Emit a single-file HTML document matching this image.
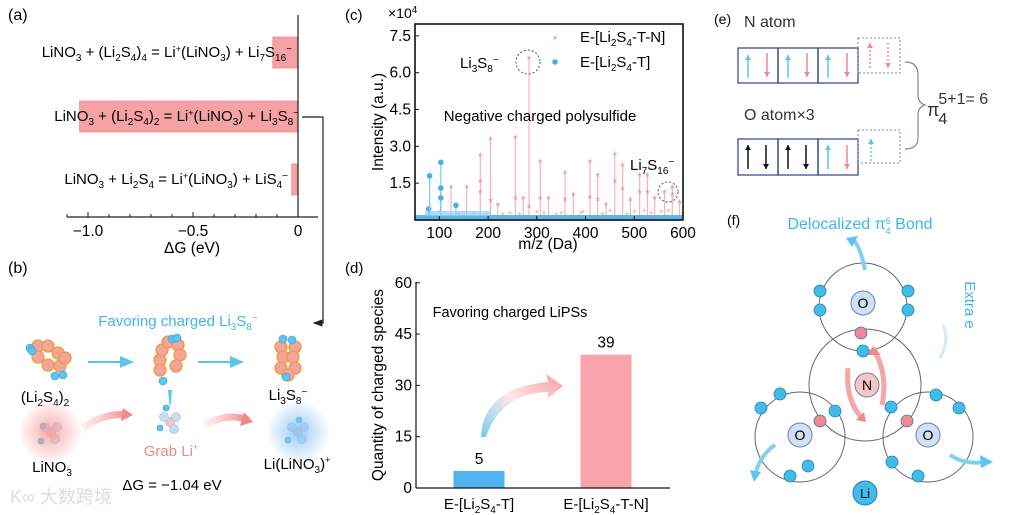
<!DOCTYPE html>
<html><head><meta charset="utf-8">
<style>
body{margin:0;background:#fff;}
svg{display:block;font-family:"Liberation Sans","Noto Sans CJK SC",sans-serif;}
</style></head>
<body>
<svg id="fig" width="1015" height="515" viewBox="0 0 1015 515">
<defs>
<radialGradient id="pinkGlow"><stop offset="0" stop-color="#f7a0a0" stop-opacity="0.9"/><stop offset="1" stop-color="#f7a0a0" stop-opacity="0"/></radialGradient>
<radialGradient id="blueGlow"><stop offset="0" stop-color="#8cc4f2" stop-opacity="0.9"/><stop offset="1" stop-color="#8cc4f2" stop-opacity="0"/></radialGradient>
<linearGradient id="curveGrad" x1="0" y1="1" x2="1" y2="0"><stop offset="0" stop-color="#5bc4f0"/><stop offset="0.5" stop-color="#fde4e6"/><stop offset="1" stop-color="#f58a92"/></linearGradient>
<linearGradient id="pinkArrow" x1="0" x2="1"><stop offset="0" stop-color="#f7b0ac" stop-opacity="0.2"/><stop offset="1" stop-color="#f18a88"/></linearGradient>
<marker id="arrK" markerWidth="8" markerHeight="8" refX="7" refY="4" orient="auto"><path d="M0,1 L8,4 L0,7 Z" fill="#222"/></marker>
<marker id="arrB" markerWidth="8" markerHeight="8" refX="6" refY="4" orient="auto"><path d="M0,1 L7,4 L0,7 Z" fill="#5bc4f0"/></marker>
</defs>

<g id="panelA"></g>
<path d="M302,117 H323 V323 H314" fill="none" stroke="#222" stroke-width="1.2" marker-end="url(#arrK)"/>

<g id="panelB">
<text x="8" y="273" font-size="16">(b)</text>
<text x="178" y="326" font-size="15" fill="#3fb6ea" text-anchor="middle">Favoring charged Li<tspan font-size="10" dy="4">3</tspan><tspan dy="-4">S</tspan><tspan font-size="10" dy="4">8</tspan><tspan font-size="10" dy="-9">−</tspan></text>
<line x1="88" y1="362" x2="132" y2="362" stroke="#5bc4f0" stroke-width="2" marker-end="url(#arrB)"/>
<line x1="198" y1="362" x2="242" y2="362" stroke="#5bc4f0" stroke-width="2" marker-end="url(#arrB)"/>
<g id="mols"></g>
<text x="45" y="402" font-size="15" text-anchor="middle">(Li<tspan font-size="10" dy="4">2</tspan><tspan dy="-4">S</tspan><tspan font-size="10" dy="4">4</tspan><tspan dy="-4">)</tspan><tspan font-size="10" dy="4">2</tspan></text>
<text x="288" y="400" font-size="15" text-anchor="middle">Li<tspan font-size="10" dy="4">3</tspan><tspan dy="-4">S</tspan><tspan font-size="10" dy="4">8</tspan><tspan font-size="10" dy="-9">−</tspan></text>
<circle cx="50" cy="432" r="32" fill="url(#pinkGlow)"/>
<circle cx="298" cy="432" r="32" fill="url(#blueGlow)"/>
<path d="M83,428 Q105,412 128,415" fill="none" stroke="url(#pinkArrow)" stroke-width="7"/>
<path d="M123,408 L133,415 L121,421 Z" fill="#f18a88"/>
<path d="M205,425 Q228,412 248,420" fill="none" stroke="url(#pinkArrow)" stroke-width="7"/>
<path d="M244,412 L253,422 L240,426 Z" fill="#f18a88"/>
<path d="M168,390 L172,390 L170,410 Z" fill="#5bc4f0"/>
<text x="52" y="472" font-size="15" text-anchor="middle">LiNO<tspan font-size="10" dy="4">3</tspan></text>
<text x="171" y="456" font-size="15" fill="#f08a88" text-anchor="middle">Grab Li<tspan font-size="9" dy="-6">+</tspan></text>
<text x="297" y="469" font-size="15" text-anchor="middle">Li(LiNO<tspan font-size="10" dy="4">3</tspan><tspan dy="-4">)</tspan><tspan font-size="9" dy="-6">+</tspan></text>
<text x="172" y="490" font-size="15" text-anchor="middle">ΔG = −1.04 eV</text>
<text x="10" y="503" font-size="18" fill="#ddd">K∞ 大数跨境</text>
</g>

<g id="panelC"></g>
<g id="panelD"></g>

<g id="panelE">
<text x="714" y="24" font-size="14">(e)</text>
<text x="744" y="27" font-size="16" fill="#333">N atom</text>
<text x="744" y="120" font-size="16" fill="#333">O atom×3</text>
<g id="orbBoxes"></g>
<path d="M905,62 Q918,62 918,75 V95 Q918,103 925,105 Q918,107 918,115 V138 Q918,149 905,149" fill="none" stroke="#888" stroke-width="1.2"/>
<text x="927" y="116" font-size="18" fill="#333">π<tspan font-size="16" dx="-1" dy="8">4</tspan><tspan font-size="16" dx="-9" dy="-20">5+1= 6</tspan></text>
</g>

<g id="panelF">
<text x="727" y="225" font-size="14">(f)</text>
<text x="860" y="229" font-size="16" fill="#3fb6ea" text-anchor="middle">Delocalized π<tspan font-size="9" dy="5">4</tspan><tspan font-size="9" dx="-5" dy="-10">6</tspan><tspan dy="5"> Bond</tspan></text>
<text x="965" y="305" font-size="15" fill="#3fb6ea" transform="rotate(90 965 305)" text-anchor="middle">Extra e</text>
<g id="atoms"></g>
</g>
</svg>

<script>
const NS="http://www.w3.org/2000/svg";
function mk(parent,tag,attrs,text){const e=document.createElementNS(NS,tag);for(const k in attrs)e.setAttribute(k,attrs[k]);if(text!==undefined)e.textContent=text;parent.appendChild(e);return e;}

/* ---------- Panel (a) data ---------- */
const aValues=[-0.12,-1.04,-0.03];
const aTicks=[-1.0,-0.5,0];
const aTickLabels=["−1.0","−0.5","0"];
(function(){
 const g=document.getElementById('panelA');
 const x=v=>298+v*210;
 const rowY=[52,116,179];
 const t=mk(g,'text',{x:8,y:20,'font-size':16},'(a)');
 
 
 aValues.forEach((v,i)=>{
  const r=mk(g,'rect',{x:x(v),y:rowY[i]-15,width:x(0)-x(v),height:31,fill:'#f6a1a3',stroke:'#e88a8e','stroke-width':0.8});
  
  
 });
 mk(g,'line',{x1:298,y1:15,x2:298,y2:217,stroke:'#222','stroke-width':1.2});
 mk(g,'line',{x1:67,y1:217,x2:318,y2:217,stroke:'#222','stroke-width':1.2});
 for(let v=-1.1;v<=0.06;v+=0.1){mk(g,'line',{x1:x(v),y1:217,x2:x(v),y2:214,stroke:'#222'});}
 aTicks.forEach((v,i)=>{
  mk(g,'line',{x1:x(v),y1:217,x2:x(v),y2:212,stroke:'#222'});
  const tl=mk(g,'text',{x:x(v),y:236,'font-size':15.5,'text-anchor':'middle'},aTickLabels[i]);
  
  
 });
 const xt=mk(g,'text',{x:192,y:253,'font-size':15.5,'text-anchor':'middle'},'ΔG (eV)');
 
 
 const eqs=[
  'LiNO<tspan font-size="10" dy="4">3</tspan><tspan dy="-4"> + (Li</tspan><tspan font-size="10" dy="4">2</tspan><tspan dy="-4">S</tspan><tspan font-size="10" dy="4">4</tspan><tspan dy="-4">)</tspan><tspan font-size="10" dy="4">4</tspan><tspan dy="-4"> = Li</tspan><tspan font-size="9" dy="-5">+</tspan><tspan dy="5">(LiNO</tspan><tspan font-size="10" dy="4">3</tspan><tspan dy="-4">) + Li</tspan><tspan font-size="10" dy="4">7</tspan><tspan dy="-4">S</tspan><tspan font-size="10" dy="4">16</tspan><tspan font-size="10" dy="-9">−</tspan>',
  'LiNO<tspan font-size="10" dy="4">3</tspan><tspan dy="-4"> + (Li</tspan><tspan font-size="10" dy="4">2</tspan><tspan dy="-4">S</tspan><tspan font-size="10" dy="4">4</tspan><tspan dy="-4">)</tspan><tspan font-size="10" dy="4">2</tspan><tspan dy="-4"> = Li</tspan><tspan font-size="9" dy="-5">+</tspan><tspan dy="5">(LiNO</tspan><tspan font-size="10" dy="4">3</tspan><tspan dy="-4">) + Li</tspan><tspan font-size="10" dy="4">3</tspan><tspan dy="-4">S</tspan><tspan font-size="10" dy="4">8</tspan><tspan font-size="10" dy="-9">−</tspan>',
  'LiNO<tspan font-size="10" dy="4">3</tspan><tspan dy="-4"> + Li</tspan><tspan font-size="10" dy="4">2</tspan><tspan dy="-4">S</tspan><tspan font-size="10" dy="4">4</tspan><tspan dy="-4"> = Li</tspan><tspan font-size="9" dy="-5">+</tspan><tspan dy="5">(LiNO</tspan><tspan font-size="10" dy="4">3</tspan><tspan dy="-4">) + LiS</tspan><tspan font-size="10" dy="4">4</tspan><tspan font-size="10" dy="-9">−</tspan>'];
 const eqRight=[292,299,288];
 eqs.forEach((s,i)=>{
  const e=mk(g,'text',{x:eqRight[i],y:rowY[i]+5,'font-size':15,'text-anchor':'end'});
  e.innerHTML=s;
  
  
 });
})();

/* ---------- Panel (b) molecules ---------- */
(function(){
 const g=document.getElementById('mols');
 const S=(x,y)=>mk(g,'circle',{cx:x,cy:y,r:6,fill:'#f5a3a0',stroke:'#e8a030','stroke-width':1.3});
 const L=(x,y,r=4)=>mk(g,'circle',{cx:x,cy:y,r:r,fill:'#5bc4f0',stroke:'#3a9ad0','stroke-width':0.6});
 [[38,346],[48,346],[58,353],[38,357],[48,365],[60,366],[65,358]].forEach(p=>S(...p));
 L(30,348);L(32,351);L(55,376);L(63,375);
 [[160,360],[160,370],[162,350],[168,342],[178,345],[180,355],[176,366]].forEach(p=>S(...p));
 L(172,339);L(177,338);L(163,381);
 [[281,347],[283,357],[281,368],[295,347],[293,357],[295,368],[288,375]].forEach(p=>S(...p));
 L(283,339);L(292,340);L(286,377);
 const cl=(x,y,col)=>{mk(g,'circle',{cx:x,cy:y,r:4.5,fill:col,stroke:'#c89aa0','stroke-width':0.6});
  [[-6,-5],[6,-5],[4,7]].forEach(d=>mk(g,'circle',{cx:x+d[0],cy:y+d[1],r:4.5,fill:'#c8dcf7',stroke:'#9bb6e8','stroke-width':0.6}));};
 cl(51,432,'#f8c6c0');L(41,441,3);L(43,426,3);
 cl(170,422,'#f8c6c0');L(160,428,3);L(166,408,3);
 cl(298,432,'#f8c6c0');L(288,440,3);L(299,420,3);
})();

/* ---------- Panel (c) data ---------- */
const cTicksY=[1.5,3.0,4.5,6.0,7.5];
const cTicksX=[100,200,300,400,500,600];
const pinkMz=[124,156,184,205,220,256,272,284,307,324,358,375,409,425,442,460,476,492,511,527,542,562,578,593];
const pinkVal=[1.3,1.3,2.6,3.25,0.6,3.35,0.85,6.55,2.35,0.85,1.9,1.0,2.35,1.8,0.6,2.65,2.2,0.8,1.8,1.8,0.85,1.1,1.3,0.7];
const pinkMz2=[184,184,205,256,284,307,358,409,425,460,476,511,527,578];
const pinkVal2=[1.55,1.1,0.75,0.85,0.5,0.85,0.8,0.9,0.8,1.55,1.25,1.1,1.1,1.0];
const pinkSmallMz=[100,140,170,230,245,265,300,315,340,350,390,395,435,450,485,500,520,535,555,570,600];
const pinkSmallVal=[0.3,0.2,0.25,0.2,0.25,0.2,0.3,0.25,0.2,0.25,0.25,0.3,0.2,0.35,0.2,0.3,0.35,0.25,0.3,0.35,0.25];
const blueMz=[78,80,103,103,103,134];
const blueVal=[0.45,1.8,2.35,1.3,0.9,0.6];
(function(){
 const g=document.getElementById('panelC');
 const X0=415,X1=683,Y0=220,Y1=24;
 const x=m=>X0+(m-50)*(X1-X0)/550;
 const y=v=>Y0-v*24.55;
 const lab=(e,n)=>{};
 lab(mk(g,'text',{x:345,y:20,'font-size':15},'(c)'),'panel-c-label');
 const ex=mk(g,'text',{x:388,y:18,'font-size':14});ex.innerHTML='×10<tspan font-size="10" dy="-5">4</tspan>';lab(ex,'y-exponent');
 pinkMz.forEach((m,i)=>{
  const s=mk(g,'line',{x1:x(m),y1:Y0,x2:x(m),y2:y(pinkVal[i]),stroke:'#f5b3b8','stroke-width':1.2});
  
  
  const p=mk(g,'text',{x:x(m),y:y(pinkVal[i])+5,'font-size':12,fill:'#f08a92','text-anchor':'middle'},'*');
  
  
 });
 pinkMz2.forEach((m,i)=>{
  const p=mk(g,'text',{x:x(m),y:y(pinkVal2[i])+5,'font-size':12,fill:'#f08a92','text-anchor':'middle'},'*');
  
  
 });
 pinkSmallMz.forEach((m,i)=>{
  const p=mk(g,'text',{x:x(m),y:y(pinkSmallVal[i])+4,'font-size':10,fill:'#f4a0a8','text-anchor':'middle'},'*');
  
  
 });
 blueMz.forEach((m,i)=>{
  const s=mk(g,'line',{x1:x(m),y1:Y0,x2:x(m),y2:y(blueVal[i]),stroke:'#7cc8f2','stroke-width':1.2});
  
  
  const p=mk(g,'circle',{cx:x(m),cy:y(blueVal[i]),r:2.8,fill:'#45b0ee'});
  
  
 });
 mk(g,'rect',{x:X0,y:Y0-5,width:X1-X0,height:5,fill:'#5bb8ec'});
 mk(g,'rect',{x:X0+10,y:Y0-9,width:65,height:5,fill:'#8fd0f5',opacity:0.7});
 mk(g,'rect',{x:X0,y:Y1,width:X1-X0,height:Y0-Y1,fill:'none',stroke:'#111','stroke-width':1.6});
 cTicksY.forEach(v=>{
  mk(g,'line',{x1:X0,y1:y(v),x2:X0+4,y2:y(v),stroke:'#111'});
  lab(mk(g,'text',{x:X0-4,y:y(v)+5,'font-size':15.5,'text-anchor':'end'},v.toFixed(1)),'y-tick-c');
 });
 cTicksX.forEach(m=>{
  mk(g,'line',{x1:x(m),y1:Y0,x2:x(m),y2:Y0-4,stroke:'#111'});
  lab(mk(g,'text',{x:x(m),y:Y0+18,'font-size':15.5,'text-anchor':'middle'},String(m)),'x-tick-c');
 });
 lab(mk(g,'text',{x:548,y:249,'font-size':15.5,'text-anchor':'middle'},'m/z (Da)'),'x-axis-title-c');
 lab(mk(g,'text',{x:383,y:122,'font-size':15.5,'text-anchor':'middle',transform:'rotate(-90 383 122)'},'Intensity (a.u.)'),'y-axis-title-c');
 lab(mk(g,'text',{x:555,y:44,'font-size':12,fill:'#f08a92','text-anchor':'middle'},'*'),'legend-marker-pink');
 const l1=mk(g,'text',{x:580,y:42,'font-size':15});l1.innerHTML='E-[Li<tspan font-size="10" dy="4">2</tspan><tspan dy="-4">S</tspan><tspan font-size="10" dy="4">4</tspan><tspan dy="-4">-T-N]</tspan>';lab(l1,'legend-entry-t-n');
 lab(mk(g,'circle',{cx:555,cy:62,r:2.8,fill:'#45b0ee'}),'legend-marker-blue');
 const l2=mk(g,'text',{x:580,y:67,'font-size':15});l2.innerHTML='E-[Li<tspan font-size="10" dy="4">2</tspan><tspan dy="-4">S</tspan><tspan font-size="10" dy="4">4</tspan><tspan dy="-4">-T]</tspan>';lab(l2,'legend-entry-t');
 const a1=mk(g,'text',{x:460,y:68,'font-size':15});a1.innerHTML='Li<tspan font-size="10" dy="4">3</tspan><tspan dy="-4">S</tspan><tspan font-size="10" dy="4">8</tspan><tspan font-size="10" dy="-9">−</tspan>';lab(a1,'annotation-li3s8');
 lab(mk(g,'circle',{cx:528,cy:62,r:12,fill:'none',stroke:'#556','stroke-dasharray':'2 2'}),'highlight-circle-li3s8');
 lab(mk(g,'text',{x:540,y:121,'font-size':15,'text-anchor':'middle'},'Negative charged polysulfide'),'annotation-negative');
 const a2=mk(g,'text',{x:630,y:170,'font-size':15});a2.innerHTML='Li<tspan font-size="10" dy="4">7</tspan><tspan dy="-4">S</tspan><tspan font-size="10" dy="4">16</tspan><tspan font-size="10" dy="-9">−</tspan>';lab(a2,'annotation-li7s16');
 lab(mk(g,'circle',{cx:668,cy:192,r:10,fill:'none',stroke:'#556','stroke-dasharray':'2 2'}),'highlight-circle-li7s16');
})();

/* ---------- Panel (d) data ---------- */
const dCategories=["E-[Li2S4-T]","E-[Li2S4-T-N]"];
const dValues=[5,39];
const dTicks=[0,15,30,45,60];
(function(){
 const g=document.getElementById('panelD');
 const X0=416,X1=670,Y0=488;
 const y=v=>Y0-v*3.42;
 const cx=[479,606],bw=51,cols=['#4fb3f0','#f9a3aa'];
 const lab=(e,n)=>{};
 lab(mk(g,'text',{x:345,y:273,'font-size':15},'(d)'),'panel-d-label');
 mk(g,'path',{d:'M481,437 Q483,388 548,382 L546,374 L563,386 L548,398 L548,392 Q500,394 486,437 Z',fill:'url(#curveGrad)',opacity:0.85});
 dValues.forEach((v,i)=>{
  const r=mk(g,'rect',{x:cx[i]-bw/2,y:y(v),width:bw,height:Y0-y(v),fill:cols[i]});
  
  
  lab(mk(g,'text',{x:cx[i],y:y(v)-7,'font-size':15.5,'text-anchor':'middle'},String(v)),'value-label');
  const parts=dCategories[i].match(/^E-\[Li2S4(.*)\]$/);
  const t=mk(g,'text',{x:cx[i],y:509,'font-size':15,'text-anchor':'middle'});
  t.innerHTML='E-[Li<tspan font-size="10" dy="4">2</tspan><tspan dy="-4">S</tspan><tspan font-size="10" dy="4">4</tspan><tspan dy="-4">'+parts[1]+']</tspan>';
  lab(t,'x-category-label');
 });
 mk(g,'line',{x1:X0,y1:y(60)-1,x2:X0,y2:Y0,stroke:'#111','stroke-width':1.2});
 mk(g,'line',{x1:X0,y1:Y0,x2:X1,y2:Y0,stroke:'#111','stroke-width':1.2});
 dTicks.forEach(v=>{
  mk(g,'line',{x1:X0,y1:y(v),x2:X0+4,y2:y(v),stroke:'#111'});
  lab(mk(g,'text',{x:X0-4,y:y(v)+5,'font-size':15.5,'text-anchor':'end'},String(v)),'y-tick-d');
 });
 lab(mk(g,'text',{x:510,y:317,'font-size':14.5,'text-anchor':'middle'},'Favoring charged LiPSs'),'annotation-favoring');
 lab(mk(g,'text',{x:383,y:385,'font-size':15.5,'text-anchor':'middle',transform:'rotate(-90 383 385)'},'Quantity of charged species'),'y-axis-title-d');
})();

/* ---------- Panel (e) boxes ---------- */
(function(){
 const g=document.getElementById('orbBoxes');
 const box=(x,y,w,h,dash)=>mk(g,'rect',{x:x,y:y,width:w,height:h,fill:'none',stroke:dash?'#7a86b0':'#3b4f8a','stroke-width':dash?1:1.3,'stroke-dasharray':dash?'2 2':''});
 const arr=(x,y1,y2,col,dash)=>{mk(g,'line',{x1:x,y1:y1,x2:x,y2:y2,stroke:col,'stroke-width':1.5,'stroke-dasharray':dash?'2 2':''});
  const d=y2<y1?-1:1;mk(g,'path',{d:`M${x-3},${y2-d*5} L${x},${y2} L${x+3},${y2-d*5} Z`,fill:col});};
 [738,778,818].forEach(x=>box(x,48,40,35));
 box(858,38,42,35,true);
 [738,778,818].forEach(x=>{arr(x+10,78,55,'#5bc4f0');arr(x+29,53,77,'#f08a92');});
 arr(870,68,43,'#f08a92',true);arr(888,43,68,'#f08a92',true);
 [738,778,818].forEach(x=>box(x,139,40,36));
 box(858,130,42,33,true);
 arr(748,169,145,'#111');arr(766,145,169,'#111');
 arr(788,169,145,'#111');arr(806,145,169,'#111');
 arr(828,169,145,'#5bc4f0');arr(847,145,169,'#f08a92');
 arr(871,161,139,'#5bc4f0',true);
})();

/* ---------- Panel (f) atoms ---------- */
(function(){
 const g=document.getElementById('atoms');
 const orb=(x,y,r)=>mk(g,'circle',{cx:x,cy:y,r:r,fill:'none',stroke:'#666','stroke-width':1});
 orb(863,307,44);orb(865,385,56);orb(800,437,45);orb(928,437,45);
 const e=(x,y,c)=>mk(g,'circle',{cx:x,cy:y,r:6,fill:c||'#3fbcea',stroke:'#2a7fb0','stroke-width':0.8});
 const nuc=(x,y,t,c)=>{mk(g,'circle',{cx:x,cy:y,r:12,fill:c,stroke:'#6a7fb5','stroke-width':1});mk(g,'text',{x:x,y:y+5,'font-size':14,'text-anchor':'middle'},t);};
 mk(g,'path',{d:'M865,270 Q860,245 853,240',fill:'none',stroke:'#7fd0f3','stroke-width':4});
 mk(g,'path',{d:'M846,238 L858,236 L852,247 Z',fill:'#5bc4f0'});
 mk(g,'path',{d:'M775,445 Q760,455 755,475',fill:'none',stroke:'#7fd0f3','stroke-width':4});
 mk(g,'path',{d:'M750,470 L754,482 L761,472 Z',fill:'#5bc4f0'});
 mk(g,'path',{d:'M950,455 Q965,465 985,462',fill:'none',stroke:'#7fd0f3','stroke-width':4});
 mk(g,'path',{d:'M980,455 L993,462 L981,468 Z',fill:'#5bc4f0'});
 mk(g,'path',{d:'M940,358 Q950,340 943,325',fill:'none',stroke:'#cfeaf8','stroke-width':3});
 mk(g,'path',{d:'M882,405 Q888,375 875,352',fill:'none',stroke:'#f5a6a6','stroke-width':5});
 mk(g,'path',{d:'M868,355 L873,346 L881,355 Z',fill:'#f08a8a'});
 mk(g,'path',{d:'M848,368 Q845,400 862,418',fill:'none',stroke:'#f5a6a6','stroke-width':5});
 mk(g,'path',{d:'M856,420 L866,422 L864,412 Z',fill:'#f08a8a'});
 nuc(863,303,'O','#cfe0f7');nuc(867,385,'N','#f8c6c0');nuc(800,435,'O','#cfe0f7');nuc(928,435,'O','#cfe0f7');
 mk(g,'circle',{cx:865,cy:493,r:12,fill:'#3fbcea',stroke:'#2a7fb0'});
 mk(g,'text',{x:865,y:498,'font-size':13,'text-anchor':'middle'},'Li');
 [[820,291],[820,310],[908,291],[908,310],[863,351],[780,394],[761,408],[835,411],[790,476],[808,466],[891,407],[936,395],[959,408],[892,462],[918,476]].forEach(p=>e(...p));
 [[861,333],[820,421],[907,421]].forEach(p=>e(p[0],p[1],'#f08a92'));
})();
</script>
</body></html>
